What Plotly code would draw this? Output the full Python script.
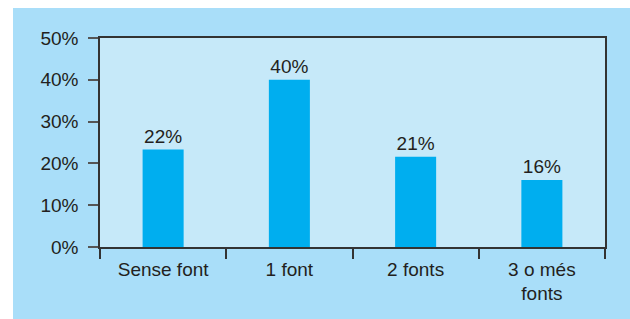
import plotly.graph_objects as go

categories = ["Sense font", "1 font", "2 fonts", "3 o més<br>fonts"]
values = [23.3, 40, 21.6, 16]
labels = ["22%", "40%", "21%", "16%"]
y_ticks = [0, 10, 20, 30, 40, 50]
y_tick_text = [f"{v}%" for v in y_ticks]

OUTER = "#a9def9"
INNER = "#c6e9f9"
BAR = "#00aeef"
TXT = "#231f20"
FONT = "Liberation Sans, Arial, sans-serif"
FS = 19

fig = go.Figure(go.Bar(
    x=categories, y=values, text=labels, textposition="outside",
    textfont=dict(size=FS, color=TXT, family=FONT),
    marker=dict(color=BAR, line=dict(width=0)),
    cliponaxis=False,
))

W, H = 630, 319
ml, mr, mt, mb = 100, 25, 38, 72
pw, ph = W - ml - mr, H - mt - mb

fig.update_layout(
    width=W, height=H,
    margin=dict(l=ml, r=mr, t=mt, b=mb),
    paper_bgcolor=OUTER, plot_bgcolor=INNER,
    bargap=0.675, showlegend=False,
    font=dict(family=FONT, size=FS, color=TXT),
    shapes=[
        dict(type="rect", xref="paper", yref="paper", layer="below",
             x0=-1, x1=2, y0=1 + (mt - 8) / ph, y1=2,
             fillcolor="white", line=dict(width=0)),
        dict(type="rect", xref="paper", yref="paper", layer="below",
             x0=-1, x1=(13 - ml) / pw, y0=-1, y1=2,
             fillcolor="white", line=dict(width=0)),
    ],
)
fig.update_yaxes(
    range=[0, 50], tickmode="array", tickvals=y_ticks, ticktext=y_tick_text,
    showgrid=False, zeroline=False,
    showline=True, linecolor="#333333", linewidth=1.5, mirror=True,
    ticks="outside", ticklen=10, tickcolor="#555555", tickwidth=1.5,
    ticklabelstandoff=6,
    tickfont=dict(size=FS, color=TXT),
)
fig.update_xaxes(
    showgrid=False, showline=True, linecolor="#333333", linewidth=1.5, mirror=True,
    ticks="outside", ticklen=10, tickcolor="#333333", tickwidth=1.5,
    tickson="boundaries", ticklabelstandoff=4,
    tickfont=dict(size=FS, color=TXT),
)
fig.write_html("out.html", config={"displayModeBar": False},
               post_script="document.body.style.margin='0';")
